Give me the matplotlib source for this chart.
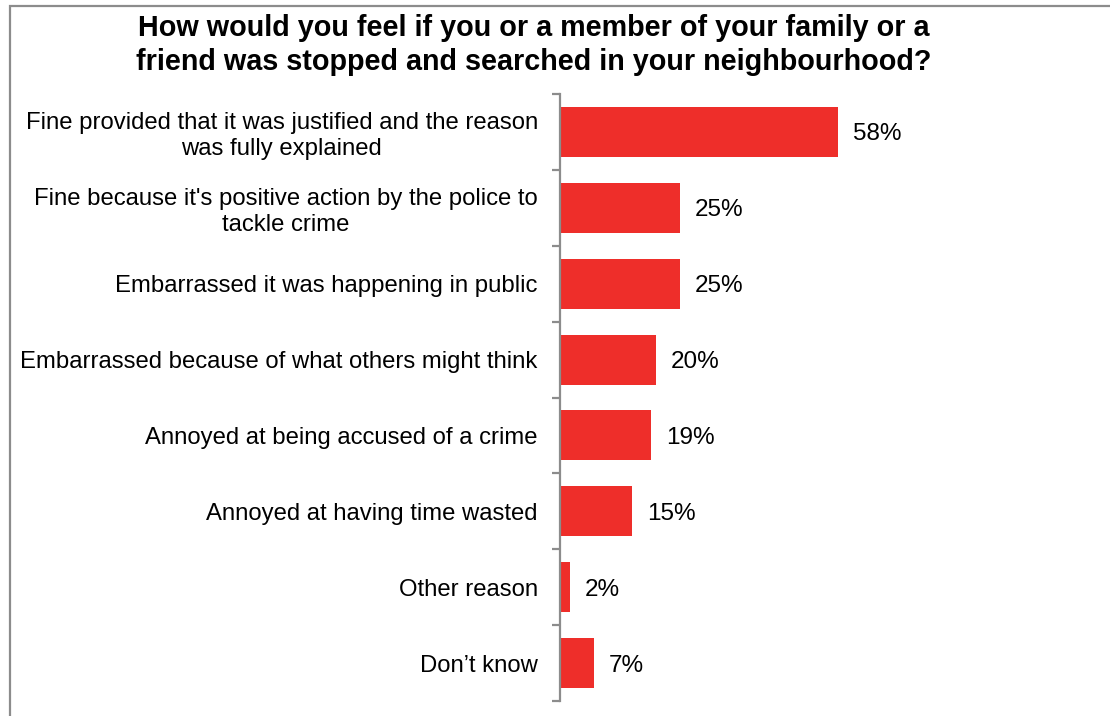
import matplotlib.pyplot as plt
from matplotlib.patches import Rectangle
import numpy as np

plt.rcParams['font.family'] = ['Liberation Sans', 'DejaVu Sans']

categories = [
    "Fine provided that it was justified and the reason\nwas fully explained",
    "Fine because it's positive action by the police to\ntackle crime",
    "Embarrassed it was happening in public",
    "Embarrassed because of what others might think",
    "Annoyed at being accused of a crime",
    "Annoyed at having time wasted",
    "Other reason",
    "Don\u2019t know",
]
values = [58, 25, 25, 20, 19, 15, 2, 7]
value_labels = ["58%", "25%", "25%", "20%", "19%", "15%", "2%", "7%"]
title = ("How would you feel if you or a member of your family or a\n"
         "friend was stopped and searched in your neighbourhood?")

W, H = 1110, 716
fig = plt.figure(figsize=(W / 100, H / 100), dpi=100)

# outer chart border (only left and top edges fall inside the canvas)
fig.patches.append(Rectangle((10 / W, -0.1), 1.2, 1 - 6 / H + 0.1,
                             transform=fig.transFigure, fill=False,
                             edgecolor='#8c8c8c', linewidth=1.6))

ax = fig.add_axes([560 / W, 1 - 701 / H, (W - 560) / W, (701 - 94) / H])
n = len(values)
y = np.arange(n)
ax.barh(y, values, height=0.66, color='#ee2e2a')
ax.set_ylim(n - 0.5, -0.5)
ax.set_xlim(0, (W - 560) / 4.8)

for yi, v, lab in zip(y, values, value_labels):
    ax.text(v + 3.1, yi, lab, va='center_baseline', ha='left', fontsize=17.5)

for s in ['top', 'right', 'bottom']:
    ax.spines[s].set_visible(False)
ax.spines['left'].set_color('#8c8c8c')
ax.spines['left'].set_linewidth(1.6)
ax.set_xticks([])

ax.set_yticks(y)
ax.set_yticklabels(categories, fontsize=17.2)
for t in ax.get_yticklabels():
    t.set_multialignment('center')
    t.set_linespacing(1.22)
ax.tick_params(axis='y', which='major', length=0, pad=16)
ax.set_yticks(np.arange(n + 1) - 0.5, minor=True)
ax.tick_params(axis='y', which='minor', length=6, width=1.6, color='#8c8c8c')

fig.text(534 / W, 1 - 45 / H, title, ha='center', va='center',
         fontsize=20.7, fontweight='bold', linespacing=1.27)

fig.savefig('out.png', dpi=100)
